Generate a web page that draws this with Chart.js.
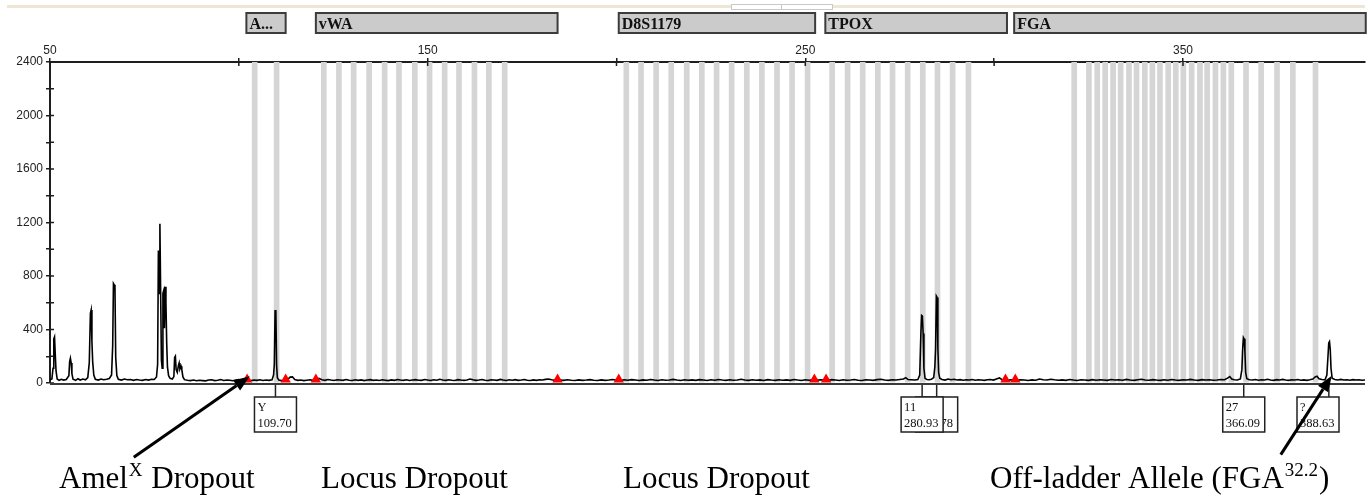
<!DOCTYPE html>
<html>
<head>
<meta charset="utf-8">
<title>Electropherogram</title>
<script src="https://cdn.jsdelivr.net/npm/chart.js@4.4.1/dist/chart.umd.min.js"></script>
<style>
  html, body { margin: 0; padding: 0; background: #fff; }
  #wrap { width: 1372px; height: 495px; }
</style>
</head>
<body>
<div id="wrap"><canvas id="epg" width="1372" height="495"></canvas></div>
<script>
// ---- data (size in bp, height in RFU) ----
const traceSize = [
  50.0, 50.5, 50.8, 51.0, 51.2, 51.4, 51.6, 51.9, 52.4, 53.0,
  53.6, 54.3, 55.0, 55.2, 55.4, 55.6, 55.8, 56.1, 56.8, 57.4,
  58.0, 58.7, 59.4, 60.0, 60.4, 60.7, 60.9, 61.1, 61.3, 61.6,
  62.0, 62.8, 63.5, 64.2, 65.0, 65.7, 66.3, 66.6, 66.8, 67.0,
  67.2, 67.4, 67.7, 68.1, 68.9, 69.7, 70.5, 71.3, 72.1, 72.9,
  73.7, 74.5, 75.3, 76.1, 76.9, 77.6, 78.2, 78.5, 78.7, 78.9,
  79.1, 79.3, 79.5, 79.7, 79.9, 80.1, 80.3, 80.5, 80.7, 80.9,
  81.1, 81.4, 81.8, 82.4, 82.8, 83.0, 83.2, 83.4, 83.7, 84.0,
  84.2, 84.4, 84.7, 84.9, 85.2, 85.6, 86.4, 87.2, 88.0, 88.8,
  89.6, 90.4, 91.2, 92.0, 92.8, 93.6, 94.4, 95.2, 96.0, 96.8,
  97.6, 98.4, 99.2, 100.0, 100.8, 101.6, 102.4, 103.2, 104.0, 104.8,
  105.6, 106.4, 107.2, 108.0, 108.8, 109.2, 109.4, 109.6, 109.8, 110.0,
  110.2, 110.6, 111.2, 112.0, 112.8, 113.6, 114.2, 114.8, 115.6, 116.4,
  117.2, 118.0, 118.8, 119.6, 120.4, 121.2, 122.0, 122.8, 123.6, 124.4,
  125.2, 126.0, 126.8, 127.6, 128.4, 129.2, 130.0, 130.8, 131.6, 132.4,
  133.2, 134.0, 134.8, 135.6, 136.4, 137.2, 138.0, 138.8, 139.6, 140.4,
  141.2, 142.0, 142.8, 143.6, 144.4, 145.2, 146.0, 146.8, 147.6, 148.4,
  149.2, 150.0, 150.8, 151.6, 152.4, 153.2, 154.0, 154.8, 155.6, 156.4,
  157.2, 158.0, 158.8, 159.6, 160.4, 161.2, 162.0, 162.8, 163.6, 164.4,
  165.2, 166.0, 166.8, 167.6, 168.4, 169.2, 170.0, 170.8, 171.6, 172.4,
  173.2, 174.0, 174.8, 175.6, 176.4, 177.2, 178.0, 178.8, 179.6, 180.4,
  181.2, 182.0, 182.8, 183.6, 184.4, 185.2, 186.0, 187.0, 188.0, 189.0,
  190, 191, 192, 193, 194, 195, 196, 197, 198, 199,
  200, 201, 202, 203, 204, 205, 206, 207, 208, 209,
  210, 211, 212, 213, 214, 215, 216, 217, 218, 219,
  220, 221, 222, 223, 224, 225, 226, 227, 228, 229,
  230, 231, 232, 233, 234, 235, 236, 237, 238, 239,
  240, 241, 242, 243, 244, 245, 246, 247, 248, 249,
  250, 251, 252, 253, 254, 255, 256, 257, 258, 259,
  260, 261, 262, 263, 264, 265, 266, 267, 268, 269,
  270, 271, 272, 273, 274, 275, 276, 276.6, 277.2, 278,
  279.0, 279.8, 280.3, 280.6, 280.8, 281.0, 281.2, 281.4, 281.7, 282.2,
  282.8, 283.4, 284.0, 284.3, 284.5, 284.7, 284.9, 285.1, 285.3, 285.6,
  286.2, 287.0, 287.8, 288.6, 289.4, 290.2, 291.0, 291.8, 292.6, 293.4,
  294.2, 295.0, 295.8, 296.6, 297.4, 298.2, 299.0, 299.8, 300.6, 301.4,
  302.0, 302.8, 303.6, 304.4, 305.2, 306, 307, 308, 309, 310,
  311, 312, 313, 314, 315, 316, 317, 318, 319, 320,
  321, 322, 323, 324, 325, 326, 327, 328, 329, 330,
  331, 332, 333, 334, 335, 336, 337, 338, 339, 340,
  341, 342, 343, 344, 345, 346, 347, 348, 349, 350,
  351, 352, 353, 354, 355, 356, 357, 358, 359, 360,
  361.0, 361.8, 362.4, 362.9, 363.6, 364.4, 365.2, 365.6, 365.8, 366.0,
  366.2, 366.4, 366.6, 366.9, 367.6, 368.4, 369.2, 370.0, 370.8, 371.6,
  372.4, 373.2, 374.0, 374.8, 375.6, 376.4, 377.2, 378.0, 378.8, 379.6,
  380.4, 381.2, 382.0, 382.8, 383.6, 384.4, 385.0, 385.5, 386.0, 386.8,
  387.6, 388.1, 388.4, 388.6, 388.8, 389.0, 389.2, 389.5, 390.2, 391.0,
  391.8, 392.6, 393.4, 394.2, 395.0, 395.8, 396.6, 397.4, 398.2
];
const traceRfu = [
  25, 30, 110, 330, 345, 210, 90, 30, 20, 28,
  22, 26, 55, 160, 185, 150, 70, 28, 20, 32,
  22, 30, 24, 40, 150, 520, 545, 310, 160, 60,
  28, 22, 30, 24, 28, 34, 60, 280, 745, 735,
  715, 190, 55, 28, 22, 30, 24, 26, 20, 26,
  22, 20, 26, 22, 28, 26, 45, 140, 990, 670,
  1190, 670, 170, 110, 670, 690, 410, 720, 600, 300,
  120, 55, 35, 30, 48, 190, 200, 100, 80, 130,
  150, 105, 125, 100, 45, 25, 20, 18, 22, 17,
  20, 18, 16, 22, 24, 18, 20, 26, 19, 22,
  20, 17, 22, 26, 19, 24, 20, 18, 22, 20,
  24, 19, 22, 20, 24, 60, 140, 540, 545, 135,
  40, 22, 18, 20, 24, 44, 46, 26, 20, 22,
  18, 21, 24, 20, 22, 34, 24, 20, 26, 22,
  19, 24, 22, 20, 26, 21, 19, 24, 20, 23,
  18, 22, 25, 20, 22, 19, 24, 21, 18, 23,
  20, 26, 22, 20, 24, 19, 22, 25, 21, 20,
  26, 22, 19, 24, 21, 28, 22, 20, 24, 21,
  19, 25, 22, 20, 23, 30, 24, 20, 22, 26,
  21, 19, 24, 22, 20, 27, 22, 19, 24, 21,
  25, 20, 22, 26, 21, 19, 23, 20, 24, 22,
  27, 30, 24, 21, 18, 22, 20, 24, 21, 19,
  23, 20, 22, 25, 21, 19, 23, 20, 22, 26,
  21, 19, 24, 21, 25, 22, 19, 23, 21, 26,
  22, 19, 24, 21, 23, 27, 22, 19, 24, 21,
  23, 20, 25, 22, 19, 24, 21, 26, 22, 20,
  24, 21, 23, 28, 22, 20, 24, 21, 23, 19,
  25, 22, 20, 24, 21, 23, 20, 26, 22, 19,
  24, 21, 23, 20, 24, 22, 20, 25, 22, 19,
  24, 21, 23, 26, 21, 19, 24, 22, 20, 25,
  28, 22, 20, 24, 22, 26, 30, 40, 26, 24,
  22, 26, 60, 370, 505, 500, 370, 110, 35, 26,
  24, 28, 40, 120, 260, 650, 640, 260, 80, 35,
  26, 22, 30, 24, 28, 22, 25, 21, 24, 22,
  26, 21, 24, 22, 20, 24, 26, 22, 30, 38,
  26, 22, 20, 24, 22, 20, 24, 22, 19, 23,
  21, 30, 24, 22, 28, 24, 21, 23, 20, 26,
  22, 19, 24, 22, 20, 25, 21, 24, 22, 20,
  26, 22, 24, 21, 27, 22, 20, 24, 28, 23,
  21, 25, 22, 20, 24, 21, 26, 22, 20, 24,
  22, 27, 22, 20, 25, 22, 24, 21, 23, 26,
  24, 36, 48, 30, 24, 22, 30, 100, 250, 340,
  330, 240, 80, 32, 24, 22, 26, 21, 24, 22,
  28, 22, 20, 25, 22, 27, 22, 20, 24, 22,
  26, 21, 23, 20, 24, 30, 45, 50, 32, 26,
  24, 60, 200, 300, 310, 250, 110, 35, 26, 22,
  27, 22, 24, 21, 25, 22, 24, 21, 23
];

// allele bins (grey bands), in bp
const binSizes = [
  104.2, 110.0,
  122.5, 126.5, 130.4, 134.5, 138.6, 142.4, 146.6, 150.5, 154.5, 158.3, 162.4, 166.2, 170.4,
  202.6, 206.5, 210.5, 214.5, 218.6, 222.6, 226.5, 230.5, 234.5, 238.5, 242.5, 246.5, 250.6,
  257.1, 261.2, 265.2, 269.2, 273.1, 277.1, 281.1, 285.0, 289.0, 293.2,
  321.2, 325.1, 327.3, 329.4, 331.5, 333.5, 335.7, 337.7, 339.9, 341.9, 343.9, 346.1, 348.1,
  350.1, 352.3, 354.5, 356.4, 358.6, 360.7, 362.8, 366.7, 370.7, 374.9, 379.1, 385.1
];

// loci along the top
const lociNames = ['A...', 'vWA', 'D8S1179', 'TPOX', 'FGA'];
const lociStart = [102.0, 120.4, 200.6, 255.3, 305.3];
const lociEnd = [112.4, 184.4, 252.6, 303.4, 398.4];

// red locus-edge markers on the baseline
const markerSizes = [102.2, 112.4, 120.4, 184.4, 200.6, 252.4, 255.5, 303.0, 305.6];

// called peaks (label boxes under the axis)
const calledSizes = [109.70, 284.78, 280.93, 366.09, 388.63];
const calledAlleles = ['Y', '', '11', '27', '?'];

// axis ticks
const xTickValues = [50, 100, 150, 200, 250, 300, 350];
const xTickLabels = [50, 150, 250, 350];
const yTickValues = [0, 200, 400, 600, 800, 1000, 1200, 1400, 1600, 1800, 2000, 2200, 2400];
const yTickLabels = [0, 400, 800, 1200, 1600, 2000, 2400];

// annotations: [text, superscript, rest]
const notes = [
  ['Amel', 'X', ' Dropout'],
  ['Locus Dropout', '', ''],
  ['Locus Dropout', '', ''],
  ['Off-ladder Allele (FGA', '32.2', ')']
];
const noteX = [59, 321, 623, 990];
// arrow tips (bp, RFU) for the two arrows
const arrowTip = [[102.9, 50], [389.4, 55]];

Chart.defaults.font.family = '"Liberation Sans", Arial, sans-serif';
Chart.defaults.font.size = 12;
Chart.defaults.color = '#222';

const AXIS = '#1e1e1e';

function drawArrow(ctx, x1, y1, x2, y2) {
  const ang = Math.atan2(y2 - y1, x2 - x1);
  const hl = 16, hw = 6;
  const bx = x2 - hl * Math.cos(ang), by = y2 - hl * Math.sin(ang);
  ctx.strokeStyle = '#000';
  ctx.lineWidth = 3;
  ctx.beginPath();
  ctx.moveTo(x1, y1);
  ctx.lineTo(bx, by);
  ctx.stroke();
  ctx.fillStyle = '#000';
  ctx.beginPath();
  ctx.moveTo(x2, y2);
  ctx.lineTo(bx + hw * Math.sin(ang), by - hw * Math.cos(ang));
  ctx.lineTo(bx - hw * Math.sin(ang), by + hw * Math.cos(ang));
  ctx.closePath();
  ctx.fill();
}

const decor = {
  id: 'decor',
  afterDraw(chart) {
    const { ctx, chartArea: a, scales: { x, y } } = chart;
    ctx.save();

    // thin tan strip at the very top
    ctx.fillStyle = '#ece6d3';
    ctx.fillRect(7, 5, a.right - 7, 3);
    ctx.fillStyle = '#fff';
    ctx.fillRect(731, 5, 102, 3);
    ctx.strokeStyle = '#c9c9c9';
    ctx.lineWidth = 1;
    ctx.strokeRect(731.5, 4.5, 50, 5);
    ctx.strokeRect(781.5, 4.5, 51, 5);

    // locus boxes
    lociNames.forEach((name, i) => {
      const l = x.getPixelForValue(lociStart[i]);
      const r = Math.min(x.getPixelForValue(lociEnd[i]), chart.width - 5);
      ctx.fillStyle = '#cbcbcb';
      ctx.fillRect(l, 13, r - l, 20);
      ctx.strokeStyle = '#3c3c3c';
      ctx.lineWidth = 2;
      ctx.strokeRect(l, 13, r - l, 20);
      ctx.save();
      ctx.beginPath();
      ctx.rect(l, 13, r - l, 20);
      ctx.clip();
      ctx.fillStyle = '#111';
      ctx.font = 'bold 16px "Liberation Serif", serif';
      ctx.textBaseline = 'alphabetic';
      ctx.fillText(name, l + 3, 29);
      ctx.restore();
    });

    // tick marks crossing into the plot
    ctx.strokeStyle = AXIS;
    ctx.lineWidth = 1.5;
    y.ticks.forEach(t => {
      const py = y.getPixelForValue(t.value);
      ctx.beginPath();
      ctx.moveTo(a.left, py);
      ctx.lineTo(a.left + 4, py);
      ctx.stroke();
    });
    x.ticks.forEach(t => {
      const px = x.getPixelForValue(t.value);
      ctx.beginPath();
      ctx.moveTo(px, a.top);
      ctx.lineTo(px, a.top + 4);
      ctx.stroke();
    });

    // bottom axis line
    ctx.strokeStyle = '#3a3a3a';
    ctx.lineWidth = 2;
    ctx.beginPath();
    ctx.moveTo(a.left, a.bottom + 1);
    ctx.lineTo(a.right, a.bottom + 1);
    ctx.stroke();

    // called-peak label boxes
    calledSizes.forEach((s, i) => {
      const px = x.getPixelForValue(s);
      const w = 42, h = 35, top = a.bottom + 14;
      const left = Math.min(px - 21, a.right - 68);
      ctx.strokeStyle = '#222';
      ctx.lineWidth = 1.5;
      ctx.beginPath();
      ctx.moveTo(px, a.bottom + 2);
      ctx.lineTo(px, top);
      ctx.stroke();
      ctx.fillStyle = '#fff';
      ctx.fillRect(left, top, w, h);
      ctx.strokeRect(left, top, w, h);
      ctx.fillStyle = '#111';
      ctx.font = '12.5px "Liberation Serif", serif';
      ctx.textBaseline = 'alphabetic';
      ctx.fillText(calledAlleles[i], left + 3, top + 14);
      ctx.fillText(s.toFixed(2), left + 3, top + 30);
    });

    // annotation text
    const base = 488;
    notes.forEach((n, i) => {
      let cx = noteX[i];
      ctx.fillStyle = '#000';
      ctx.font = '31px "Liberation Serif", "Times New Roman", serif';
      ctx.fillText(n[0], cx, base);
      cx += ctx.measureText(n[0]).width;
      if (n[1]) {
        cx += 1;
        ctx.font = '19px "Liberation Serif", "Times New Roman", serif';
        ctx.fillText(n[1], cx, base - 12);
        cx += ctx.measureText(n[1]).width + 1;
        ctx.font = '31px "Liberation Serif", "Times New Roman", serif';
        ctx.fillText(n[2], cx, base);
      }
    });

    // arrows
    const t1x = x.getPixelForValue(arrowTip[0][0]), t1y = y.getPixelForValue(arrowTip[0][1]);
    drawArrow(ctx, t1x - 116, t1y + 81, t1x, t1y);
    const t2x = x.getPixelForValue(arrowTip[1][0]), t2y = y.getPixelForValue(arrowTip[1][1]);
    drawArrow(ctx, t2x - 51, t2y + 79, t2x, t2y);

    ctx.restore();
  }
};

new Chart(document.getElementById('epg'), {
  type: 'line',
  data: {
    datasets: [
      {
        type: 'line',
        data: traceSize.map((s, i) => ({ x: s, y: traceRfu[i] })),
        borderColor: '#000',
        borderWidth: 1.6,
        pointRadius: 0,
        tension: 0,
        order: 1
      },
      {
        type: 'scatter',
        data: markerSizes.map(s => ({ x: s, y: 26 })),
        pointStyle: 'triangle',
        pointRadius: 6,
        backgroundColor: '#ff0000',
        borderColor: '#ff0000',
        borderWidth: 0,
        order: 0
      },
      {
        type: 'bar',
        data: binSizes.map(s => ({ x: s, y: 2400 })),
        backgroundColor: '#d5d5d5',
        barThickness: 5,
        order: 2
      }
    ]
  },
  options: {
    responsive: false,
    animation: false,
    events: [],
    layout: { padding: { left: 0, right: 7, top: 36, bottom: 112 } },
    plugins: { legend: { display: false }, tooltip: { enabled: false } },
    scales: {
      x: {
        type: 'linear',
        position: 'top',
        min: 50,
        max: 398.2,
        offset: false,
        z: 1,
        afterFit: s => { s.height = 26; },
        afterBuildTicks: s => { s.ticks = xTickValues.map(v => ({ value: v })); },
        grid: { drawOnChartArea: false, offset: false, tickLength: 4, color: AXIS, lineWidth: 1.5 },
        border: { color: AXIS, width: 2 },
        ticks: {
          padding: 0,
          maxRotation: 0,
          autoSkip: false,
          callback: v => (xTickLabels.includes(v) ? String(v) : '')
        }
      },
      y: {
        min: 0,
        max: 2400,
        z: 1,
        afterFit: s => { s.width = 50; },
        afterBuildTicks: s => { s.ticks = yTickValues.map(v => ({ value: v })); },
        grid: { drawOnChartArea: false, offset: false, tickLength: 4, color: AXIS, lineWidth: 1.5 },
        border: { color: AXIS, width: 2 },
        ticks: {
          padding: 3,
          autoSkip: false,
          callback: v => (yTickLabels.includes(v) ? String(v) : '')
        }
      }
    }
  },
  plugins: [decor]
});
</script>
</body>
</html>
